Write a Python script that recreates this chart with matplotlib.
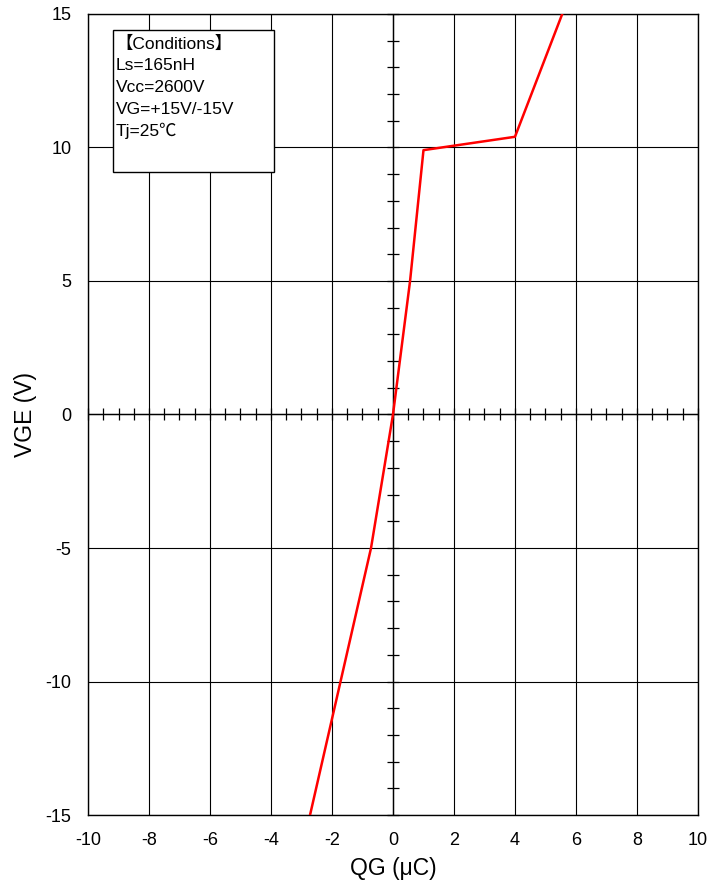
import matplotlib
matplotlib.use('Agg')
import matplotlib.pyplot as plt
import numpy as np
from matplotlib.patches import Rectangle

plt.rcParams['font.family'] = ['Liberation Sans', 'Noto Sans CJK JP', 'DejaVu Sans']
plt.rcParams['axes.unicode_minus'] = False

# gate charge curve
qg = [-2.72, -0.72, 0.0, 0.56, 1.0, 4.0, 5.55]
vge = [-15, -5, 0, 5, 9.9, 10.4, 15]

x_ticks = np.arange(-10, 11, 2)
y_ticks = np.arange(-15, 16, 5)
cond_lines = ['【Conditions】', 'Ls=165nH', 'Vcc=2600V', 'VG=+15V/-15V', 'Tj=25℃']

fig = plt.figure(figsize=(7.12, 8.89), dpi=100)
ax = fig.add_axes([0.1236, 0.0832, 0.8567, 0.9011])

ax.set_xlim(-10, 10)
ax.set_ylim(-15, 15)
ax.set_xticks(x_ticks)
ax.set_yticks(y_ticks)
ax.tick_params(axis='both', length=0, labelsize=13)
ax.tick_params(axis='x', pad=12)
ax.tick_params(axis='y', pad=12)
ax.grid(True, color='black', linewidth=0.8)
for s in ax.spines.values():
    s.set_linewidth(1.0)

# centre axes with small ticks
ax.axhline(0, color='black', linewidth=1.0)
ax.axvline(0, color='black', linewidth=1.0)
xt = np.arange(-10, 10.01, 0.5)
yt = np.arange(-15, 15.01, 1)
ax.plot(xt, np.zeros_like(xt), linestyle='none', marker='|', markersize=8,
        color='black', markeredgewidth=0.9, clip_on=False)
ax.plot(np.zeros_like(yt), yt, linestyle='none', marker='_', markersize=8,
        color='black', markeredgewidth=0.9, clip_on=False)

ax.plot(qg, vge, color='#ff0000', linewidth=1.8, zorder=5)

ax.set_xlabel('QG (μC)', fontsize=16.5, labelpad=6)
ax.set_ylabel('VGE (V)', fontsize=16.5, labelpad=6)

# conditions box
ax.add_patch(Rectangle((0.041, 0.803), 0.264, 0.177, transform=ax.transAxes,
                       facecolor='white', edgecolor='black', linewidth=1.0, zorder=6))
for i, t in enumerate(cond_lines):
    ax.text(0.045, 0.9625 - i * 0.0271, t, transform=ax.transAxes, fontsize=12.5,
            va='center', ha='left', zorder=7)

fig.savefig('out.png', dpi=100)
